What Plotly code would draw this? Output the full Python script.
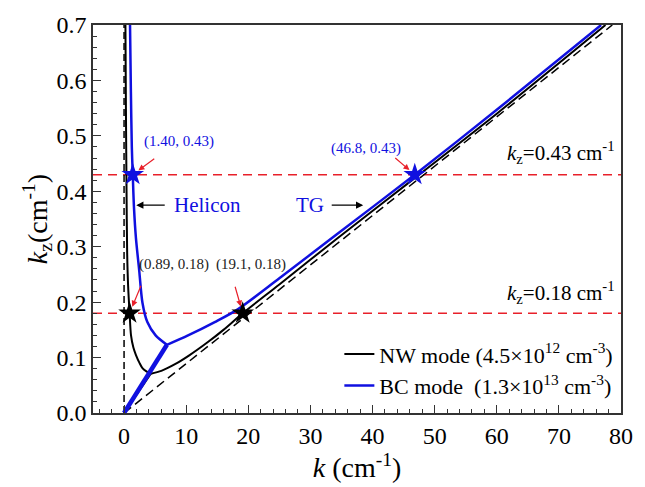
import plotly.graph_objects as go

# ---------------- data ----------------
# NW mode (black)
nw_hel_k  = [0.22, 0.30, 0.40, 0.50, 0.65, 0.89, 1.12, 1.5, 1.9, 2.5, 2.96, 3.6, 4.3]
nw_hel_kz = [0.70, 0.55, 0.40, 0.29, 0.23, 0.18, 0.14, 0.118, 0.105, 0.090, 0.081, 0.075, 0.071]
nw_tg_k   = [4.3, 6.0, 8.2, 10.5, 13.5, 16.0, 19.1, 25.0, 34.1, 47.5, 60.0, 77.5]
nw_tg_kz  = [0.071, 0.076, 0.088, 0.104, 0.128, 0.150, 0.18, 0.232, 0.313, 0.43, 0.54, 0.70]
nw_low_k  = [0.0, 4.3]
nw_low_kz = [0.0, 0.071]

# BC mode (blue)
bc_hel_k  = [0.96, 1.10, 1.25, 1.40, 1.60, 1.91, 2.44, 2.96, 3.75, 5.08, 6.9]
bc_hel_kz = [0.70, 0.58, 0.48, 0.43, 0.37, 0.316, 0.257, 0.199, 0.164, 0.140, 0.123]
bc_tg_k   = [6.9, 10.3, 14.6, 18.3, 25.0, 34.1, 46.8, 60.0, 76.8]
bc_tg_kz  = [0.123, 0.140, 0.164, 0.187, 0.243, 0.321, 0.43, 0.547, 0.70]
bc_low_k  = [0.0, 6.9]
bc_low_kz = [0.0, 0.123]

# reference dashed lines
vert_k, vert_kz = [0, 0], [0, 0.7]
diag_k, diag_kz = [0, 78.6], [0, 0.7]
kz_levels = [0.43, 0.18]
k_range = [-5, 80]

# marked points
blue_pts_k, blue_pts_kz = [1.40, 46.8], [0.43, 0.43]
black_pts_k, black_pts_kz = [0.89, 19.1], [0.18, 0.18]

x_ticks = [0, 10, 20, 30, 40, 50, 60, 70, 80]
y_ticks = [0.0, 0.1, 0.2, 0.3, 0.4, 0.5, 0.6, 0.7]

FONT = "Times New Roman, Liberation Serif, DejaVu Serif, serif"
BLUE = "#1010e0"
RED = "#e8202a"

fig = go.Figure()

# red horizontal dashed lines
for lv in kz_levels:
    fig.add_trace(go.Scatter(x=k_range, y=[lv, lv], mode="lines",
                             line=dict(color=RED, width=1.5, dash="9px,6px"),
                             showlegend=False, hoverinfo="skip"))
# black dashed
fig.add_trace(go.Scatter(x=vert_k, y=vert_kz, mode="lines",
                         line=dict(color="black", width=1.5, dash="7px,4px"),
                         showlegend=False))
fig.add_trace(go.Scatter(x=diag_k, y=diag_kz, mode="lines",
                         line=dict(color="black", width=1.5, dash="9px,5px"),
                         showlegend=False))

# NW curves
fig.add_trace(go.Scatter(x=nw_hel_k, y=nw_hel_kz, mode="lines", line=dict(color="black", width=2, shape="spline", smoothing=0.8),
                         name="NW mode (4.5×10<sup>12</sup> cm<sup>-3</sup>)", legendgroup="nw"))
fig.add_trace(go.Scatter(x=nw_tg_k, y=nw_tg_kz, mode="lines", line=dict(color="black", width=2, shape="spline", smoothing=0.8),
                         showlegend=False, legendgroup="nw"))
fig.add_trace(go.Scatter(x=nw_low_k, y=nw_low_kz, mode="lines", line=dict(color="black", width=2),
                         showlegend=False, legendgroup="nw"))
# BC curves
fig.add_trace(go.Scatter(x=bc_hel_k, y=bc_hel_kz, mode="lines", line=dict(color=BLUE, width=2.5, shape="spline", smoothing=0.8),
                         name="BC mode  (1.3×10<sup>13</sup> cm<sup>-3</sup>)", legendgroup="bc"))
fig.add_trace(go.Scatter(x=bc_tg_k, y=bc_tg_kz, mode="lines", line=dict(color=BLUE, width=2.5, shape="spline", smoothing=0.8),
                         showlegend=False, legendgroup="bc"))
fig.add_trace(go.Scatter(x=bc_low_k, y=bc_low_kz, mode="lines", line=dict(color=BLUE, width=4.5),
                         showlegend=False, legendgroup="bc"))

# stars
fig.add_trace(go.Scatter(x=black_pts_k, y=black_pts_kz, mode="markers",
                         marker=dict(symbol="star", size=17, color="black"), showlegend=False))
fig.add_trace(go.Scatter(x=blue_pts_k, y=blue_pts_kz, mode="markers",
                         marker=dict(symbol="star", size=17, color=BLUE), showlegend=False))

# ---------------- annotations ----------------
ann = []
def txt(x, y, s, size, color, xanchor="center"):
    ann.append(dict(x=x, y=y, text=s, showarrow=False, xanchor=xanchor, yanchor="middle",
                    font=dict(family=FONT, size=size, color=color)))

def arr(x, y, ax, ay, color, standoff=7, size=1.0, head=2):
    ann.append(dict(x=x, y=y, ax=ax, ay=ay, text="", showarrow=True, arrowhead=head,
                    arrowsize=size, arrowwidth=1.2, arrowcolor=color, standoff=standoff))

txt(8.9, 0.489, "(1.40, 0.43)", 15, BLUE)
txt(38.9, 0.477, "(46.8, 0.43)", 15, BLUE)
txt(8.0, 0.268, "(0.89, 0.18)", 15, "#222222")
txt(20.5, 0.268, "(19.1, 0.18)", 15, "#222222")
txt(13.4, 0.375, "Helicon", 21, BLUE)
txt(30.0, 0.375, "TG", 21, BLUE)
txt(79.4, 0.470, "<i>k</i><sub>z</sub>=0.43 cm<sup>-1</sup>", 21, "black", xanchor="right")
txt(79.4, 0.217, "<i>k</i><sub>z</sub>=0.18 cm<sup>-1</sup>", 21, "black", xanchor="right")

arr(blue_pts_k[0], blue_pts_kz[0], 23, -17, RED)
arr(blue_pts_k[1], blue_pts_kz[1], -21, -18, RED)
arr(black_pts_k[0], black_pts_kz[0], 12, -29, RED)
arr(black_pts_k[1], black_pts_kz[1], -8, -28, RED)
arr(1.96, 0.375, 30, 0, "black", standoff=0, size=1.2)
arr(38.5, 0.375, -33, 0, "black", standoff=0, size=1.2)

axis_common = dict(showline=True, linecolor="#333333", linewidth=1.5, mirror=True,
                   ticks="inside", tickcolor="#333333", tickwidth=1.3, ticklen=8,
                   showgrid=False, zeroline=False,
                   tickfont=dict(family=FONT, size=24, color="black"))

fig.update_layout(
    width=645, height=487,
    margin=dict(l=93, r=15, t=15, b=74),
    plot_bgcolor="white", paper_bgcolor="white",
    font=dict(family=FONT, color="black"),
    xaxis=dict(range=k_range, tickvals=x_ticks, ticktext=[str(v) for v in x_ticks],
               minor=dict(ticks="inside", dtick=2, tick0=0, ticklen=4, tickcolor="#333333"),
               title=dict(text="<i>k</i> (cm<sup>-1</sup>)", font=dict(family=FONT, size=28, color="black"),
                          standoff=2),
               **axis_common),
    yaxis=dict(range=[0, 0.7], tickvals=y_ticks, ticktext=[f"{v:.1f}" for v in y_ticks],
               minor=dict(ticks="inside", dtick=0.02, tick0=0, ticklen=4, tickcolor="#333333"),
               title=dict(text="<i>k</i><sub>z</sub>(cm<sup>-1</sup>)", font=dict(family=FONT, size=28, color="black"),
                          standoff=0),
               **axis_common),
    legend=dict(x=0.995, y=0.015, xanchor="right", yanchor="bottom", bgcolor="rgba(0,0,0,0)",
                font=dict(family=FONT, size=22, color="black"), tracegroupgap=0),
    annotations=ann,
)

fig.write_html("out.html")
